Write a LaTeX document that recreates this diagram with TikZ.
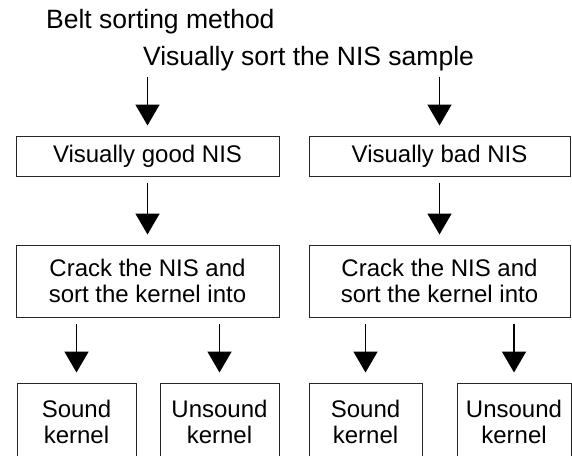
\documentclass[tikz,border=0pt]{standalone}
\usepackage{fontspec}
\setmainfont{Liberation Sans}
\usetikzlibrary{arrows.meta}
\tikzset{>={Triangle[width=24pt,length=21pt]}}
\tikzstyle{txt}=[font=\fontsize{24}{26}\selectfont,inner sep=0pt]
\tikzstyle{head}=[font=\fontsize{26.5}{30}\selectfont,inner sep=0pt]
\tikzstyle{box}=[txt,draw=black!85,line width=1pt,align=center]
\tikzstyle{flow}=[->,line width=1.8pt,shorten <=6pt,shorten >=10pt]

\begin{document}
\begin{tikzpicture}[x=1pt,y=-1pt]
  \useasboundingbox (0,0) rectangle (572,455);

  % TITLES
  \node[head,anchor=base west] (title) at (46,28) {Belt sorting method};
  \node[head,anchor=base] (sample) at (308.5,65) {Visually sort the NIS sample};

  % FIRST SORT
  \node[box,minimum width=263pt,minimum height=40pt] (good) at (147.5,156) {Visually good NIS};
  \node[box,minimum width=261pt,minimum height=40pt] (bad) at (439.5,156) {Visually bad NIS};

  % CRACKING
  \node[box,minimum width=263pt,minimum height=72pt] (crackg) at (147.5,281) {Crack the NIS and\\sort the kernel into};
  \node[box,minimum width=261pt,minimum height=72pt] (crackb) at (439.5,281) {Crack the NIS and\\sort the kernel into};

  % KERNELS (cut at the bottom edge)
  \node[box,minimum width=119pt,minimum height=78pt] (soundg) at (76.5,422) {Sound\\kernel};
  \node[box,minimum width=119pt,minimum height=78pt] (unsoundg) at (219.5,422) {Unsound\\kernel};
  \node[box,minimum width=113pt,minimum height=78pt] (soundb) at (365.5,422) {Sound\\kernel};
  \node[box,minimum width=114pt,minimum height=78pt] (unsoundb) at (514,422) {Unsound\\kernel};

  % ARROWS
  \draw[flow] (sample.south -| good.north) -- (good.north);
  \draw[flow] (sample.south -| bad.north) -- (bad.north);
  \draw[flow] (good) -- (crackg);
  \draw[flow] (bad) -- (crackb);
  \draw[flow] (crackg.south -| soundg.north) -- (soundg.north);
  \draw[flow] (crackg.south -| unsoundg.north) -- (unsoundg.north);
  \draw[flow] (crackb.south -| soundb.north) -- (soundb.north);
  \draw[flow] (crackb.south -| unsoundb.north) -- (unsoundb.north);
\end{tikzpicture}
\end{document}
